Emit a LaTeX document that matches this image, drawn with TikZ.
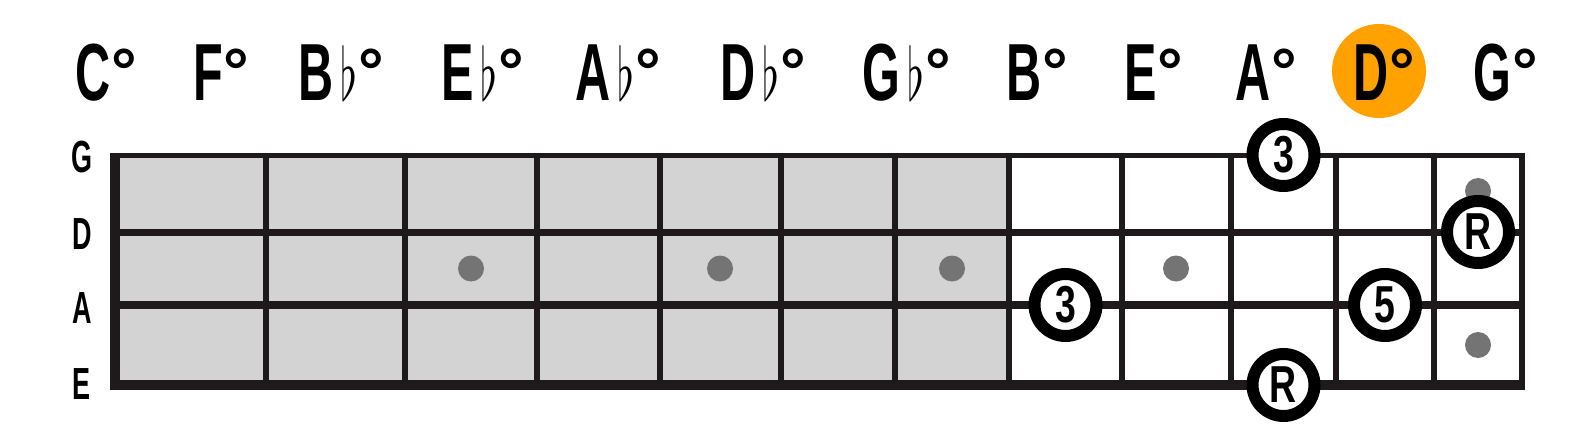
\documentclass[tikz,border=0pt]{standalone}
\usepackage{fontspec}
\setmainfont{Liberation Sans}
\newfontfamily\hdrfam{Liberation Sans}[FakeStretch=0.6]
\newfontfamily\mkfam{Liberation Sans}[FakeStretch=0.72]
\newfontfamily\degfam{Liberation Sans}
\definecolor{ink}{HTML}{1E1A1B}
\definecolor{fretgray}{HTML}{D3D3D3}
\definecolor{dotgray}{HTML}{747474}
\definecolor{hilite}{HTML}{FFA200}
\newcommand\hfnt{\hdrfam\bfseries\fontsize{81}{81}\selectfont}
\newcommand\sfnt{\hdrfam\bfseries\fontsize{45}{45}\selectfont}
\newcommand\mfnt{\mkfam\bfseries\fontsize{52}{52}\selectfont}
\newcommand\dg{\kern1pt\raisebox{7pt}{\degfam\fontsize{64}{64}\selectfont °}}
\newcommand\fl{\kern7pt\resizebox{17pt}{55pt}{\normalsize$\flat$}\kern0pt}
\tikzset{
  hdr/.style={anchor=base west, inner sep=0pt, font=\hfnt, text=black},
  strlbl/.style={anchor=center, inner sep=0pt, font=\sfnt, text=black},
  marker/.style={circle, draw=black, line width=12pt, fill=white, minimum size=62pt, inner sep=0pt, font=\mfnt},
  fdot/.style={circle, fill=dotgray, minimum size=26pt, inner sep=0pt},
  fret/.style={draw=ink, line width=5.5pt},
}
\begin{document}
\begin{tikzpicture}[x=1pt,y=-1pt]
\useasboundingbox (0,0) rectangle (1595,428);
% board fills
\fill[fretgray] (115,155) rectangle (1009,385);
\fill[white] (1009,155) rectangle (1522,385);
% inlay dots
\node[fdot] (d1) at (471,268.5) {};
\node[fdot] (d2) at (720,268.5) {};
\node[fdot] (d3) at (952,268.5) {};
\node[fdot] (d4) at (1176,268.5) {};
\node[fdot] (d5) at (1478,191) {};
\node[fdot] (d6) at (1478,345) {};
% frets
\foreach \x in {266,405,537,660,781,895,1009,1122,1231,1336,1434}
  \draw[fret] (\x,155) -- (\x,385);
% strings
\draw[ink, line width=5pt] (110,155) -- (1525,155);
\draw[ink, line width=7pt] (110,232) -- (1525,232);
\draw[ink, line width=8pt] (110,305) -- (1525,305);
\draw[ink, line width=10pt] (110,385) -- (1525,385);
% borders
\draw[ink, line width=10pt] (115,152.5) -- (115,390);
\draw[ink, line width=6pt] (1522,152.5) -- (1522,390);
% markers
\node[marker] (m3a) at (1283.5,155) {3};
\node[marker] (mRd) at (1478,232) {R};
\node[marker] (m3b) at (1065.5,305) {3};
\node[marker] (m5) at (1385,305) {5};
\node[marker] (mRe) at (1283.5,385) {R};
% string labels
\node[strlbl] (sG) at (82,157) {G};
\node[strlbl] (sD) at (82,234) {D};
\node[strlbl] (sA) at (82,308) {A};
\node[strlbl] (sE) at (82,384) {E};
% highlight
\node[circle, fill=hilite, minimum size=94pt, inner sep=0pt] (hl) at (1379,71) {};
% chord headers
\node[hdr] (c1) at (75,100) {C\dg};
\node[hdr] (c2) at (193,100) {F\dg};
\node[hdr] (c3) at (298,100) {B\fl\dg};
\node[hdr] (c4) at (441,100) {E\fl\dg};
\node[hdr] (c5) at (575,100) {A\fl\dg};
\node[hdr] (c6) at (720,100) {D\fl\dg};
\node[hdr] (c7) at (862,100) {G\fl\dg};
\node[hdr] (c8) at (1006,100) {B\dg};
\node[hdr] (c9) at (1124,100) {E\dg};
\node[hdr] (c10) at (1235,100) {A\dg};
\node[hdr] (c11) at (1353,100) {D\dg};
\node[hdr] (c12) at (1473,100) {G\dg};
\end{tikzpicture}
\end{document}
